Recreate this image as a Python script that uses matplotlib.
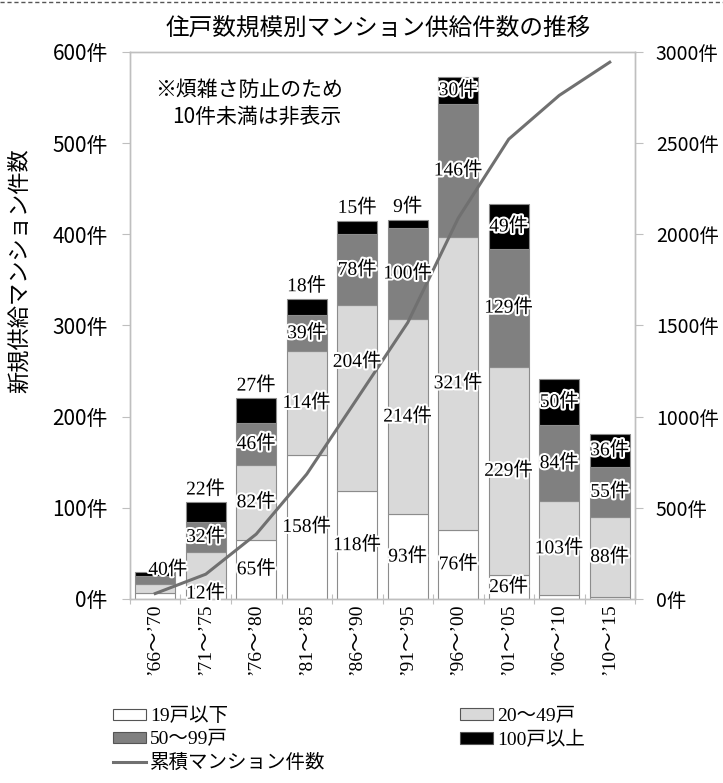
import matplotlib
matplotlib.use("Agg")
import matplotlib.pyplot as plt
import matplotlib.patheffects as pe
from matplotlib.lines import Line2D
from matplotlib.patches import Patch
import numpy as np

periods = ["’66～’70", "’71～’75", "’76～’80", "’81～’85", "’86～’90",
           "’91～’95", "’96～’00", "’01～’05", "’06～’10", "’10～’15"]
small = [7, 12, 65, 158, 118, 93, 76, 26, 4, 2]          # 19戸以下
medium = [9, 40, 82, 114, 204, 214, 321, 229, 103, 88]   # 20～49戸
large = [9, 32, 46, 39, 78, 100, 146, 129, 84, 55]       # 50～99戸
huge = [5, 22, 27, 18, 15, 9, 30, 49, 50, 36]            # 100戸以上
cumulative = [30, 136, 356, 685, 1100, 1516, 2089, 2522, 2762, 2944]

series_names = ["19戸以下", "20～49戸", "50～99戸", "100戸以上"]
colors = ["#ffffff", "#d9d9d9", "#808080", "#000000"]

serif = ["Liberation Serif", "Noto Sans CJK JP"]
sans = ["Noto Sans CJK JP", "DejaVu Sans"]
plt.rcParams["font.family"] = sans

fig = plt.figure(figsize=(7.23, 7.83), dpi=100)
ax = fig.add_axes([0.1798, 0.235, 0.6985, 0.6986])
ax2 = ax.twinx()

x = np.arange(len(periods))
width = 0.79
bottom = np.zeros(len(periods))
segments = []
for vals, c in zip([small, medium, large, huge], colors):
    vals = np.array(vals, dtype=float)
    ax.bar(x, vals, width=width, bottom=bottom, color=c,
           edgecolor="#8c8c8c", linewidth=0.8, zorder=2)
    segments.append((vals, bottom.copy()))
    bottom = bottom + vals
totals = bottom

ax.set_xlim(-0.5, len(periods) - 0.5)
ax.set_ylim(0, 600)
ax.set_yticks(np.arange(0, 601, 100))
ax.set_yticklabels([f"{v}件" for v in range(0, 601, 100)], fontsize=15)
ax.set_xticks(np.arange(-0.5, len(periods), 1))
ax.set_xticklabels([])
ax.set_xticks(x, minor=True)
ax.set_xticklabels(periods, minor=True, rotation=90, fontsize=14,
                   family=serif)
ax.tick_params(axis="x", which="major", direction="inout", length=7,
               color="#bfbfbf")
ax.tick_params(axis="x", which="minor", length=0, pad=3)
ax.tick_params(axis="y", length=6, color="#bfbfbf", pad=10)
ax.set_ylabel("新規供給マンション件数", fontsize=16)
ax.yaxis.set_label_coords(-0.195, 0.6)

ax2.plot(x, cumulative, color="#707070", linewidth=2.2, zorder=3)
ax2.set_ylim(0, 3000)
ax2.set_yticks(np.arange(0, 3001, 500))
ax2.set_yticklabels([f"{v}件" for v in range(0, 3001, 500)], fontsize=14)
ax2.tick_params(axis="y", length=6, color="#bfbfbf", pad=9)

for a in (ax, ax2):
    for s in a.spines.values():
        s.set_color("#bfbfbf")
        s.set_linewidth(1.0)

# segment labels, values under 10 are hidden
halo = [pe.withStroke(linewidth=3, foreground="white")]
for k, (vals, bot) in enumerate(segments):
    for i, v in enumerate(vals):
        if v < 10 and not (k == 3 and i == 5):
            continue
        xi, yi = x[i], bot[i] + v / 2
        if k == 3 and i in (1, 2, 3, 4, 5):
            yi = totals[i] + 14
        if k == 1 and i == 1:
            xi = x[i] - 0.75
        if k == 1 and i == 4:
            yi += 40
        ax2.text(xi, yi, f"{int(v)}件", transform=ax.transData,
                 ha="center", va="center", fontsize=14, family=serif,
                 zorder=6, path_effects=halo)

fig.text(0.523, 1 - 28 / 783, "住戸数規模別マンション供給件数の推移",
         ha="center", va="center", fontsize=17)
fig.text(155 / 723, 1 - 90 / 783, "※煩雑さ防止のため", ha="left",
         va="center", fontsize=15)
fig.text(172 / 723, 1 - 117 / 783, "10件未満は非表示", ha="left",
         va="center", fontsize=15)

# dashed rule along the top edge
fig.add_artist(Line2D([0, 1], [1 - 2 / 783, 1 - 2 / 783],
                      transform=fig.transFigure, color="#555555",
                      linestyle=(0, (3, 2)), linewidth=1))

patches = [Patch(facecolor=c, edgecolor="#555555", linewidth=0.8)
           for c in colors]
line_handle = Line2D([], [], color="#707070", linewidth=2.2)
leg_kw = dict(frameon=False, prop={"family": serif, "size": 14},
              handlelength=1.7, handleheight=0.55, handletextpad=0.2,
              labelspacing=0.3, borderpad=0, borderaxespad=0)
fig.legend([patches[0], patches[2], line_handle],
           [series_names[0], series_names[2], "累積マンション件数"],
           loc="upper left", bbox_to_anchor=(113 / 723, 1 - 708 / 783),
           **leg_kw)
fig.legend([patches[1], patches[3]],
           [series_names[1], series_names[3]],
           loc="upper left", bbox_to_anchor=(460 / 723, 1 - 708 / 783),
           **leg_kw)

fig.savefig("out.png", dpi=100)
